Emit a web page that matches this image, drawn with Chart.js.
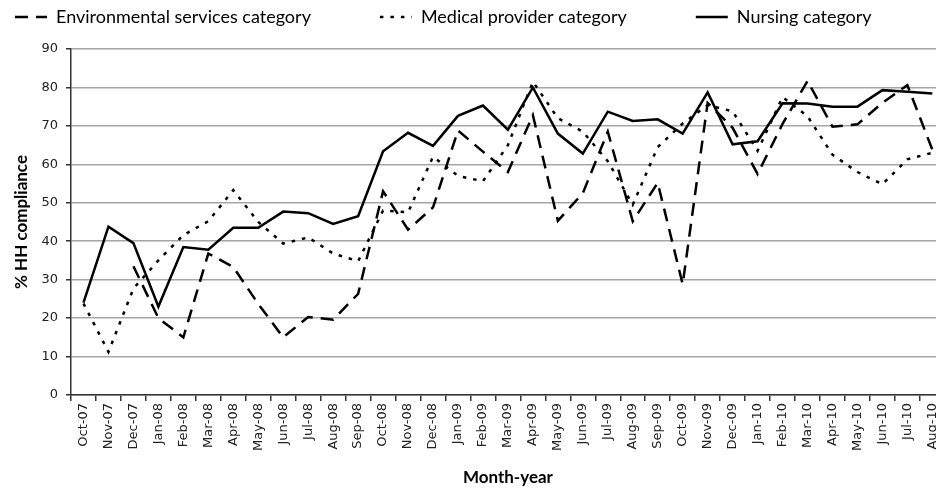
<!DOCTYPE html>
<html>
<head>
<meta charset="utf-8">
<script src="https://cdn.jsdelivr.net/npm/chart.js@4/dist/chart.umd.min.js"></script>
<style>
  html, body { margin: 0; padding: 0; background: #fff; overflow: hidden; }
  #wrap { width: 950px; height: 495px; }
</style>
</head>
<body>
<div id="wrap"><canvas id="myChart"></canvas></div>
<script>
var months = ["Oct-07", "Nov-07", "Dec-07", "Jan-08", "Feb-08", "Mar-08", "Apr-08", "May-08",
  "Jun-08", "Jul-08", "Aug-08", "Sep-08", "Oct-08", "Nov-08", "Dec-08", "Jan-09", "Feb-09",
  "Mar-09", "Apr-09", "May-09", "Jun-09", "Jul-09", "Aug-09", "Sep-09", "Oct-09", "Nov-09",
  "Dec-09", "Jan-10", "Feb-10", "Mar-10", "Apr-10", "May-10", "Jun-10", "Jul-10", "Aug-10"];

// % HH compliance per staff category
var environmental = [null, null, 33.5, 20, 15, 36.8, 33.3, 23.7, 15, 20.3, 19.6, 26.3,
  53, 43, 48.8, 68.8, 63.3, 58, 72.8, 45.3, 52.5, 68.5, 45.2, 55.2, 28.8, 76,
  69.5, 57.5, 70.5, 81.7, 69.8, 70.4, 76, 80.6, 63.8];
var medical = [23.8, 11.2, 27.7, 35, 41.6, 45.2, 53.3, 45, 39.4, 41, 36.8, 34.8,
  48, 47.5, 62, 57, 55.6, 65, 81.5, 72, 68.5, 60.8, 49.5, 64.5, 70.6, 75.4,
  73.8, 63.5, 77.5, 72.5, 62.5, 58, 54.8, 61.3, 63];
var nursing = [24, 43.8, 39.5, 23, 38.5, 37.8, 43.5, 43.5, 47.7, 47.3, 44.5, 46.5,
  63.4, 68.2, 64.8, 72.6, 75.3, 69, 80, 68, 62.8, 73.7, 71.3, 71.7, 68, 78.7,
  65.2, 66, 75.9, 75.8, 75, 75, 79.3, 78.9, 78.4];

var yTicks = [0, 10, 20, 30, 40, 50, 60, 70, 80, 90];

function series(label, values, dash) {
  return {
    label: label,
    data: values,
    borderColor: '#000',
    backgroundColor: '#000',
    borderWidth: 2.5,
    borderDash: dash,
    borderCapStyle: 'butt',
    pointRadius: 0,
    pointStyle: 'line',
    tension: 0,
    spanGaps: false
  };
}

// give the legend box some extra room below the items
var legendGap = {
  id: 'legendGap',
  afterInit: function(chart) {
    var legend = chart.legend;
    var fit = legend.fit;
    legend.fit = function() {
      fit.call(this);
      this.height += 13;
    };
  }
};

var ctx = document.getElementById("myChart").getContext('2d');
var chart = new Chart(ctx, {
  type: 'line',
  data: {
    labels: months,
    datasets: [
      series("Environmental services category", environmental, [13, 8]),
      series("Medical provider category", medical, [3.5, 7]),
      series("Nursing category", nursing, [])
    ]
  },
  plugins: [legendGap],
  options: {
    responsive: true,
    maintainAspectRatio: false,
    animation: false,
    // negative padding pulls the legend up/left so its items can be spaced wide apart
    layout: { padding: { top: -61, left: -54, right: 4, bottom: 0 } },
    plugins: {
      tooltip: { enabled: false },
      legend: {
        position: 'top',
        align: 'start',
        labels: {
          usePointStyle: true,
          pointStyleWidth: 32,
          padding: 69,
          color: '#000',
          font: { family: 'Lato', size: 18 },
          generateLabels: function(chart) {
            return chart.data.datasets.map(function(ds, i) {
              return {
                text: ds.label,
                datasetIndex: i,
                fillStyle: '#000',
                strokeStyle: '#000',
                fontColor: '#000',
                lineWidth: 2.5,
                lineDash: ds.borderDash,
                lineCap: 'butt',
                pointStyle: 'line',
                hidden: false
              };
            });
          }
        }
      }
    },
    scales: {
      x: {
        offset: true,
        afterFit: function(scale) { scale.height = 100; },
        grid: { drawOnChartArea: false, offset: true, tickLength: 6, tickColor: '#333', lineWidth: 1.5 },
        border: { color: '#333', width: 1.5 },
        ticks: {
          autoSkip: false,
          minRotation: 90,
          maxRotation: 90,
          padding: 2,
          color: '#222',
          font: { family: 'DejaVu Sans', size: 13 }
        },
        title: {
          display: true,
          text: 'Month-year',
          color: '#000',
          font: { family: 'Lato', size: 17, weight: 'bold' },
          padding: { top: 4, bottom: 7 }
        }
      },
      y: {
        min: 0,
        max: 90,
        afterFit: function(scale) { scale.width = 125; },
        afterBuildTicks: function(scale) {
          scale.ticks = yTicks.map(function(v) { return { value: v }; });
        },
        grid: { color: '#a6a6a6', lineWidth: 1.5, tickLength: 5, tickColor: '#333' },
        border: { color: '#333', width: 1.5 },
        ticks: {
          padding: 8,
          color: '#222',
          font: { family: 'DejaVu Sans', size: 13 }
        },
        title: {
          display: true,
          text: '% HH compliance',
          color: '#000',
          font: { family: 'Lato', size: 17, weight: 'bold' },
          padding: { top: 65, bottom: 4 }
        }
      }
    }
  }
});
</script>
</body>
</html>
